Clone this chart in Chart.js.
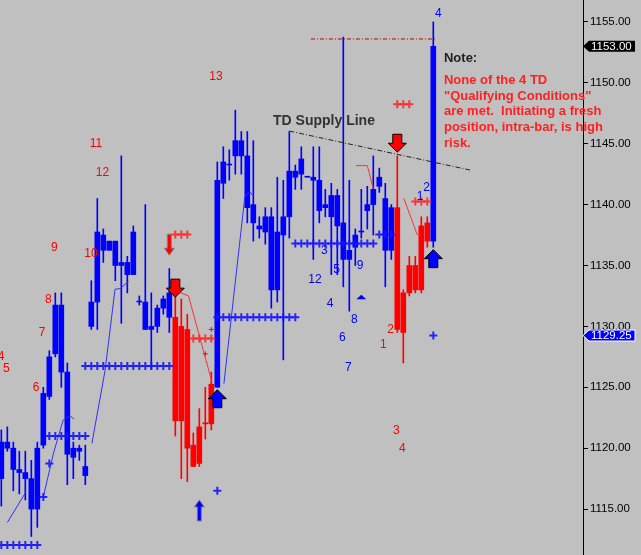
<!DOCTYPE html>
<html lang="en">
<head>
<meta charset="UTF-8" />
<title>TD Supply Line</title>
<script src="https://cdn.jsdelivr.net/npm/chart.js"></script>
<style>
  html, body { margin: 0; padding: 0; background: #c0c0c0; }
  #wrap { width: 641px; height: 555px; position: relative; }
</style>
</head>
<body>
<div id="wrap"><canvas id="chart"></canvas></div>
<script>
// bar values (bar index = position in the arrays)
const high  = [1121.5,1121.75,1120.5,1119.75,1119.75,1119,1120.5,1125,1128,1132.75,1132.75,1127,1120.5,1120.25,1120.25,
  1133.75,1140.5,1138,1137,1137,1144,1135.75,1138.25,1132.5,1140,1132.75,1131.75,1132.5,1134.75,
  1132.5,1132.25,1131,1121.25,1123.25,1125,1126.25,
  1143.5,1144.75,1144.5,1147.75,1146,1146,1145.25,1139,1139.75,1139.75,1142.25,1142,1146,1143.25,1144.75,1142.25,1144.75,1144.75,
  1141.25,1141.75,1141.25,1153.75,1142,1138,1141.25,1141.5,1144,1143,1141.75,1140,
  1144,1133,1135.75,1135.75,1139,1139,1155];
const low   = [1115.25,1119.75,1116.5,1116.25,1115.75,1112.75,1113.5,1120,1124,1127.5,1125,1117,1117.5,1119,1117,
  1129.75,1129.75,1135.25,1136.25,1133.75,1130.25,1132.75,1134.25,1131.75,1129.75,1126.5,1129.5,1131,1129.5,
  1121,1117.5,1117.25,1118.5,1118.5,1120.75,1121.5,
  1125,1140.5,1142,1142.5,1142.5,1138.5,1137,1137.25,1136.75,1131.5,1132,1127.25,1137.25,1141.25,1141.25,1142.25,1135.5,1138.5,
  1139,1134.25,1134.25,1133.25,1131.25,1135,1137.25,1138,1137.5,1141,1133.25,1135.5,
  1129.5,1127,1132.5,1132.75,1132.75,1136.5,1136.5];
const open  = [1117.5,1120,1118.25,1118,1117.5,1115,1115,1120.25,1124.25,1127.75,1126.25,1119.5,1119.25,1119.75,1117.75,
  1130,1132,1136.25,1136.25,1135,1135,1134.25,1134.25,1132,1129.75,1129.75,1130,1131.5,1130.75,
  1130.75,1130,1129.75,1120.25,1121.75,1122,1125.25,
  1125,1141.75,1143.25,1144,1144,1139.75,1138.5,1138,1137.75,1133,1133,1137.5,1139,1142.25,1142.5,1142.25,1142,1139.5,
  1139.75,1139,1138.25,1135.5,1135.5,1136.5,1137.75,1139.5,1140,1141.5,1136.25,1136.25,
  1139.75,1132.75,1135,1135,1138.25,1138.5,1137];
const close = [1120.5,1120.5,1120,1118.25,1118,1117.5,1120,1124.5,1127.5,1131.75,1131.75,1126.25,1120,1120,1118.5,
  1132,1137.75,1137.5,1137,1137,1135.25,1135.25,1137.75,1132,1132,1130,1131.5,1132.25,1132.75,
  1122.25,1122.25,1120,1118.5,1118.75,1122,1122,
  1142,1143.5,1143.25,1145.25,1145.25,1144,1140,1138.25,1139,1139,1137.75,1139,1142.75,1142.75,1143.75,1142.25,1142.25,1142,
  1140,1140.75,1140.75,1138.5,1136.25,1137.5,1137.75,1140,1141.25,1142.25,1140.5,1139.75,
  1129.75,1129.5,1132.75,1133,1133,1137,1153];
const redBars = [29,30,31,32,33,34,35,66,67,68,69,70,71];

// "+" levels: [first bar, last bar, price]
const bluePlusRows = [[0,6,1112.05],[8,14,1121.0],[14,28,1126.75],[36,49,1130.75],[49,62,1136.8],[63,65,1137.55]];
const redPlusRows  = [[29,31,1137.55],[32,35,1129.0],[66,68,1148.25],[69,71,1140.25]];
const blueSinglePlus = [[7,1116.0],[8,1118.75],[36,1116.5],[72,1129.25]];
const redSmallPlus   = [[34,1127.75],[35,1129.75]];

// thin trailing lines: [bar, price]
const blueTrail = [
  [[1.0,1113.9],[4.1,1116.4]],
  [[7.0,1116.0],[8.7,1119.6],[10.3,1122.3],[11.45,1122.65],[12.1,1122.4]],
  [[15.1,1120.4],[17.3,1126.4],[18.95,1133.05],[19.8,1133.1],[21.2,1133.7]],
  [[37.1,1125.3],[40.6,1140.7],[41.45,1141.05],[42.0,1140.7]]
];
const redTrail = [
  [[28.7,1133.0],[31.2,1132.5],[35.1,1125.45]],
  [[59.1,1143.2],[61.0,1143.2],[62.0,1141.3]],
  [[67.1,1140.5],[69.3,1137.55],[69.8,1137.55]]
];

const supplyLine = [[48,1146.04],[78.1,1142.84]];
const riskLine = [[51.6,1153.6],[72.6,1153.6]];

// count labels: [bar, price, text]
const redCounts = [[-0.05,1127.5,"4"],[0.83,1126.5,"5"],[5.78,1125.0,"6"],[6.78,1129.5,"7"],[7.83,1132.2,"8"],
  [8.83,1136.5,"9"],[14.95,1135.95,"10"],[15.78,1145.0,"11"],[16.87,1142.6,"12"],[35.78,1150.5,"13"],
  [63.67,1128.5,"1"],[64.9,1129.75,"2"],[65.83,1121.4,"3"],[66.83,1120.0,"4"]];
const blueCounts = [[72.83,1155.65,"4"],[69.78,1140.65,"1"],[70.9,1141.35,"2"],[53.83,1136.2,"3"],[52.28,1133.8,"12"],
  [55.9,1134.65,"5"],[59.78,1135.0,"9"],[54.78,1131.85,"4"],[58.83,1130.55,"8"],[56.83,1129.05,"6"],[57.83,1126.65,"7"]];

// arrows: [bar, tip price, direction, colour]
const bigArrows = [[29,1132.4,"down","#ff0000"],[66,1144.3,"down","#ff0000"],[36,1124.8,"up","#0000ff"],[72,1136.3,"up","#0000ff"]];
const smallArrows = [[28,1135.85,"down","#ff0000"],[33,1115.75,"up","#0000ff"]];
const triangles = [[60,1132.6]];

const noteLines = ["None of the 4 TD", "\"Qualifying Conditions\"", "are met.  Initiating a fresh",
  "position, intra-bar, is high", "risk."];

const yTicks = [1115,1120,1125,1130,1135,1140,1145,1150,1155];
const lastPrice = 1153.0;
const markPrice = 1129.25;

const FONT = "'Liberation Sans', Arial, sans-serif";
const idx = high.map((_, i) => i);
const barColour = idx.map((i) => (redBars.includes(i) ? "#ff0000" : "#0000ff"));

function plusPoints(rows) {
  const pts = [];
  rows.forEach(([a, b, p]) => {
    for (let k = a; k <= b; k++) pts.push({ x: k, y: p });
  });
  return pts;
}
function trailSet(seg, colour) {
  return {
    type: "line",
    data: seg.map(([x, y]) => ({ x, y })),
    borderColor: colour,
    borderWidth: 1,
    pointRadius: 0,
    fill: false,
    order: 2,
  };
}

const datasets = [
  {
    type: "bar",
    data: idx.map((i) => ({ x: i, y: [low[i], high[i]] })),
    backgroundColor: barColour,
    barThickness: 1,
    grouped: false,
    order: 10,
  },
  {
    type: "bar",
    data: idx.map((i) => ({ x: i, y: [Math.min(open[i], close[i]), Math.max(open[i], close[i])] })),
    backgroundColor: barColour,
    barThickness: 5,
    minBarLength: 1,
    grouped: false,
    order: 9,
  },
  ...blueTrail.map((s) => trailSet(s, "#3030ff")),
  ...redTrail.map((s) => trailSet(s, "#ff3030")),
  {
    type: "line",
    data: supplyLine.map(([x, y]) => ({ x, y })),
    borderColor: "#202020",
    borderWidth: 1,
    borderDash: [5, 2, 1, 2],
    pointRadius: 0,
    order: 2,
  },
  {
    type: "line",
    data: riskLine.map(([x, y]) => ({ x, y })),
    borderColor: "#c00000",
    borderWidth: 1,
    borderDash: [4, 2, 1, 2],
    pointRadius: 0,
    order: 2,
  },
  {
    type: "line",
    data: plusPoints(bluePlusRows).concat(blueSinglePlus.map(([x, y]) => ({ x, y }))),
    showLine: false,
    pointStyle: "cross",
    pointRadius: 4,
    pointBorderWidth: 2,
    pointBorderColor: "rgba(20,20,255,0.9)",
    order: 1,
  },
  {
    type: "line",
    data: plusPoints(redPlusRows),
    showLine: false,
    pointStyle: "cross",
    pointRadius: 4,
    pointBorderWidth: 2,
    pointBorderColor: "rgba(255,30,30,0.85)",
    order: 1,
  },
  {
    type: "line",
    data: redSmallPlus.map(([x, y]) => ({ x, y })),
    showLine: false,
    pointStyle: "cross",
    pointRadius: 2.5,
    pointBorderWidth: 1,
    pointBorderColor: "#ff0000",
    order: 1,
  },
];

function arrowPath(ctx, x, y, dir, w, sw, hh, total) {
  const s = dir === "down" ? -1 : 1;
  ctx.beginPath();
  ctx.moveTo(x, y);
  ctx.lineTo(x + w, y + s * hh);
  ctx.lineTo(x + sw, y + s * hh);
  ctx.lineTo(x + sw, y + s * total);
  ctx.lineTo(x - sw, y + s * total);
  ctx.lineTo(x - sw, y + s * hh);
  ctx.lineTo(x - w, y + s * hh);
  ctx.closePath();
}

function priceTag(ctx, area, yPix, text, fill) {
  const x0 = area.right;
  ctx.save();
  ctx.beginPath();
  ctx.moveTo(x0, yPix);
  ctx.lineTo(x0 + 6, yPix - 5.5);
  ctx.lineTo(x0 + 52, yPix - 5.5);
  ctx.lineTo(x0 + 52, yPix + 5.5);
  ctx.lineTo(x0 + 6, yPix + 5.5);
  ctx.closePath();
  ctx.fillStyle = fill;
  ctx.fill();
  if (fill !== "#000000") {
    ctx.strokeStyle = "#ffffff";
    ctx.lineWidth = 1;
    ctx.stroke();
  }
  ctx.fillStyle = "#ffffff";
  ctx.font = "11.5px " + FONT;
  ctx.textAlign = "left";
  ctx.textBaseline = "middle";
  ctx.fillText(text, x0 + 8, yPix + 0.5);
  ctx.restore();
}

const marks = {
  id: "marks",
  afterDatasetsDraw(chart) {
    const { ctx, scales, chartArea } = chart;
    const X = (v) => scales.x.getPixelForValue(v);
    const Y = (v) => scales.y.getPixelForValue(v);
    ctx.save();
    ctx.beginPath();
    ctx.rect(chartArea.left, chartArea.top, chartArea.right - chartArea.left, chartArea.bottom - chartArea.top);
    ctx.clip();

    ctx.font = "12px " + FONT;
    ctx.textAlign = "center";
    ctx.textBaseline = "middle";
    ctx.fillStyle = "#ff0000";
    redCounts.forEach(([k, p, t]) => ctx.fillText(t, X(k), Y(p)));
    ctx.fillStyle = "#0000ff";
    blueCounts.forEach(([k, p, t]) => ctx.fillText(t, X(k), Y(p)));

    bigArrows.forEach(([k, p, dir, col]) => {
      arrowPath(ctx, X(k), Y(p), dir, 9, 4.5, 9, 18);
      ctx.fillStyle = col;
      ctx.fill();
      ctx.strokeStyle = "#000000";
      ctx.lineWidth = 1;
      ctx.stroke();
    });
    smallArrows.forEach(([k, p, dir, col]) => {
      arrowPath(ctx, X(k), Y(p), dir, 5, 2, 7, 21);
      ctx.fillStyle = col;
      ctx.fill();
      ctx.strokeStyle = "#808080";
      ctx.lineWidth = 1;
      ctx.stroke();
    });
    triangles.forEach(([k, p]) => {
      const x = X(k), y = Y(p);
      ctx.beginPath();
      ctx.moveTo(x, y);
      ctx.lineTo(x + 5, y + 4.5);
      ctx.lineTo(x - 5, y + 4.5);
      ctx.closePath();
      ctx.fillStyle = "#0000ff";
      ctx.fill();
    });

    ctx.font = "bold 14px " + FONT;
    ctx.fillStyle = "#333333";
    ctx.textAlign = "center";
    ctx.fillText("TD Supply Line", X(53.78), Y(1146.86));
    ctx.restore();
  },
  afterDraw(chart) {
    const { ctx, scales, chartArea } = chart;
    const X = (v) => scales.x.getPixelForValue(v);
    const Y = (v) => scales.y.getPixelForValue(v);

    // the note runs over the price axis, as in the original
    const nx = X(73.78), ny = Y(1152.0);
    ctx.save();
    ctx.textAlign = "left";
    ctx.textBaseline = "middle";
    ctx.font = "bold 13px " + FONT;
    ctx.fillStyle = "#222222";
    ctx.fillText("Note:", nx, ny);
    ctx.fillStyle = "#ff2020";
    noteLines.forEach((line, i) => ctx.fillText(line, nx, ny + 21.7 + i * 15.8));
    ctx.restore();

    priceTag(ctx, chartArea, Y(lastPrice), lastPrice.toFixed(2), "#000000");
    priceTag(ctx, chartArea, Y(markPrice), markPrice.toFixed(2), "#0000ff");
  },
};

const canvas = document.getElementById("chart");
canvas.width = 641;
canvas.height = 555;
new Chart(canvas.getContext("2d"), {
  type: "bar",
  data: { datasets },
  options: {
    responsive: false,
    animation: false,
    events: [],
    layout: { padding: 0, autoPadding: false },
    plugins: { legend: { display: false }, tooltip: { enabled: false } },
    scales: {
      x: { type: "linear", display: false, offset: false, min: -0.22, max: 96.95 },
      y: {
        type: "linear",
        position: "right",
        min: 1111.23,
        max: 1156.8,
        afterFit(s) {
          s.width = 58;
          s.paddingTop = 0;
          s.paddingBottom = 0;
        },
        afterBuildTicks(s) {
          s.ticks = yTicks.map((v) => ({ value: v }));
        },
        ticks: {
          color: "#000000",
          padding: 2,
          font: { family: FONT, size: 11.5 },
          callback: (v) => Number(v).toFixed(2),
        },
        grid: { drawOnChartArea: false, color: "#000000", tickLength: 5, tickColor: "#000000" },
        border: { color: "#000000", width: 1 },
      },
    },
  },
  plugins: [marks],
});
</script>
</body>
</html>
